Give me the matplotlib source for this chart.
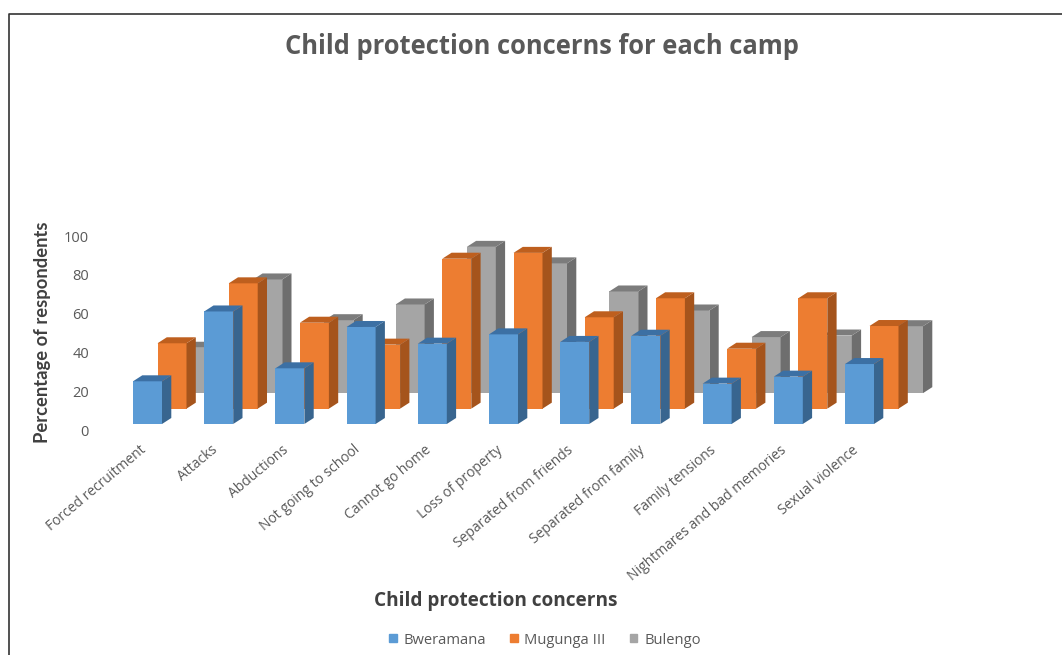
import matplotlib
matplotlib.use("Agg")
import matplotlib.pyplot as plt
from matplotlib.patches import Patch
from matplotlib.transforms import ScaledTranslation

# Data
concerns = ["Forced recruitment", "Attacks", "Abductions", "Not going to school",
            "Cannot go home", "Loss of property", "Separated from friends",
            "Separated from family", "Family tensions",
            "Nightmares and bad memories", "Sexual violence"]
bweramana = [22, 58, 28.7, 50, 41.4, 46.2, 42.3, 45.5, 20.8, 24.4, 30.9]
mugunga = [33.7, 64.6, 44.3, 33, 77.3, 80.3, 47.1, 56.9, 30.9, 56.9, 42.6]
bulengo = [23.4, 58.6, 37.6, 45.7, 75.4, 66.9, 52.4, 42.6, 28.9, 29.7, 34.5]
camps = ["Bweramana", "Mugunga III", "Bulengo"]

W, H = 1062, 655
plt.rcParams['font.family'] = ['Open Sans', 'DejaVu Sans']
GREY = "#595959"

# fake 3D look, sizes in axis units
PX_X, PX_Y = 71.2, 1.94
bar_w = 29 / PX_X
depth_x = 9.3 / PX_X
depth_y = 6 / PX_Y

# back to front: values, x shift, floor height, front/side/top colours
series = [
    (bulengo, 49 / PX_X, 19, "#A5A5A5", "#6E6E6E", "#7C7C7C"),
    (mugunga, 24.5 / PX_X, 11, "#ED7D31", "#A5541C", "#BE5F1E"),
    (bweramana, 0, 3.1, "#5B9BD5", "#38658F", "#3C70A4"),
]

fig = plt.figure(figsize=(W / 100, H / 100), dpi=100)
left, right, top, bottom = 100, 1000, 236, 430
ax = fig.add_axes([left / W, 1 - bottom / H, (right - left) / W, (bottom - top) / H])
ax.set_xlim((left - 147.5) / PX_X, (right - 147.5) / PX_X)
ax.set_ylim(0, 100)

for values, shift, floor, front, side, lid in series:
    for i, v in enumerate(values):
        x0 = i + shift - bar_w / 2
        x1 = x0 + bar_w
        y1 = floor + v
        ax.bar(x0, v, bar_w, bottom=floor, align='edge', color=front, clip_on=False)
        ax.fill([x1, x1 + depth_x, x1 + depth_x, x1],
                [floor, floor + depth_y, y1 + depth_y, y1], color=side, lw=0, clip_on=False)
        ax.fill([x0, x1, x1 + depth_x, x0 + depth_x],
                [y1, y1, y1 + depth_y, y1 + depth_y], color=lid, lw=0, clip_on=False)

for s in ax.spines.values():
    s.set_visible(False)
ax.set_yticks([0, 20, 40, 60, 80, 100])
ax.tick_params(axis='y', length=0, pad=8, labelsize=10.5, labelcolor=GREY)
ax.set_xticks(range(len(concerns)))
ax.set_xticklabels(concerns, rotation=40, ha='right', rotation_mode='anchor')
ax.tick_params(axis='x', length=0, pad=9, labelsize=10, labelcolor=GREY)
# labels sit a little left of the bars
nudge = ScaledTranslation(-8 / 100, 0, fig.dpi_scale_trans)
for label in ax.get_xticklabels():
    label.set_transform(label.get_transform() + nudge)

fig.text(542 / W, 1 - 46 / H, "Child protection concerns for each camp", ha='center', va='center',
         fontsize=18.4, fontweight='bold', color=GREY)
fig.text(496 / W, 1 - 601 / H, "Child protection concerns", ha='center', va='center',
         fontsize=13.7, fontweight='bold', color="#404040")
fig.text(43 / W, 1 - 332 / H, "Percentage of respondents", ha='center', va='center', rotation=90,
         fontsize=13.2, color="#404040", family=['Lato', 'DejaVu Sans'], fontweight='bold')

handles = [Patch(color=c) for c in ["#5B9BD5", "#ED7D31", "#A5A5A5"]]
fig.legend(handles, camps, loc='center', bbox_to_anchor=(545 / W, 1 - 640 / H), ncol=3, frameon=False,
           fontsize=10.6, labelcolor=GREY, handlelength=0.5, handleheight=0.5,
           handletextpad=0.45, columnspacing=1.65)

fig.add_artist(plt.Line2D([8.5 / W, 8.5 / W, 1], [0, 1 - 14 / H, 1 - 14 / H], color="#333333", lw=1.2))

fig.savefig("out.png", dpi=100)
